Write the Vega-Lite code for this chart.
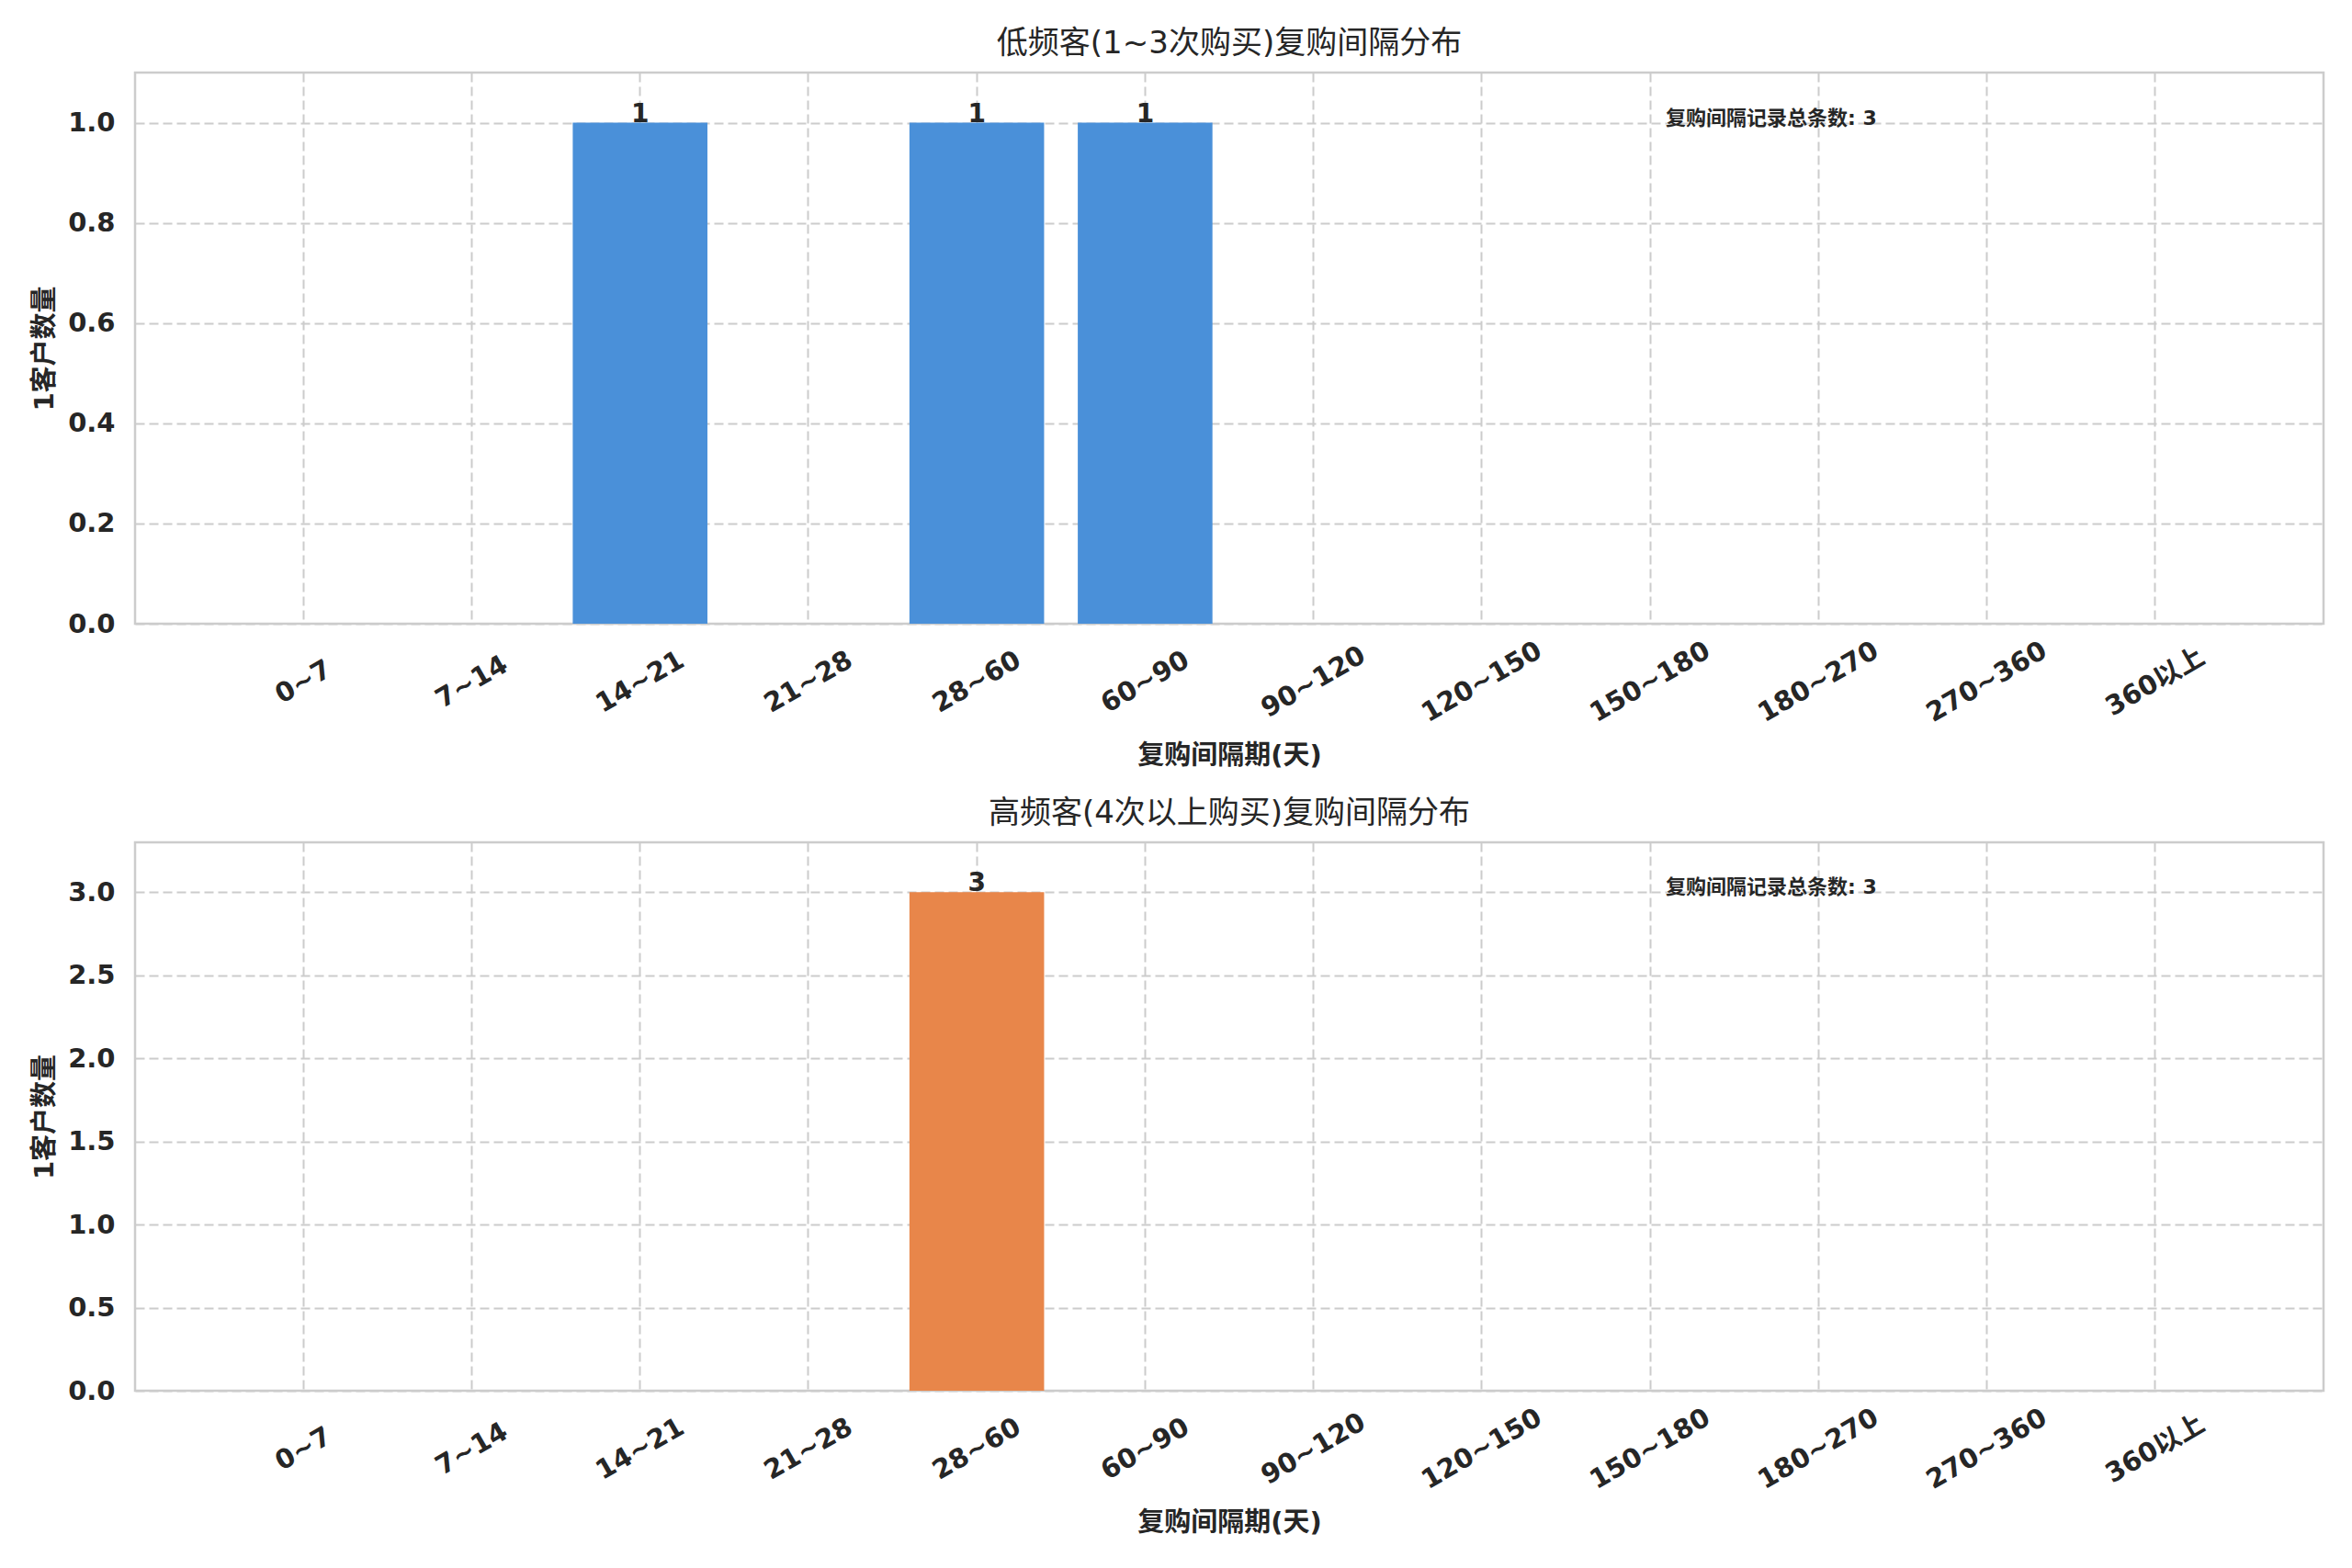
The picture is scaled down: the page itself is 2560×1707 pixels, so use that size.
{
  "$schema": "https://vega.github.io/schema/vega-lite/v6.json",
  "padding": {"left": 33, "top": 29, "right": 31, "bottom": 20},
  "background": "white",
  "spacing": 28,
  "datasets": {
    "low": [
      {"bin": "0~7", "count": 0},
      {"bin": "7~14", "count": 0},
      {"bin": "14~21", "count": 1},
      {"bin": "21~28", "count": 0},
      {"bin": "28~60", "count": 1},
      {"bin": "60~90", "count": 1},
      {"bin": "90~120", "count": 0},
      {"bin": "120~150", "count": 0},
      {"bin": "150~180", "count": 0},
      {"bin": "180~270", "count": 0},
      {"bin": "270~360", "count": 0},
      {"bin": "360以上", "count": 0}
    ],
    "high": [
      {"bin": "0~7", "count": 0},
      {"bin": "7~14", "count": 0},
      {"bin": "14~21", "count": 0},
      {"bin": "21~28", "count": 0},
      {"bin": "28~60", "count": 3},
      {"bin": "60~90", "count": 0},
      {"bin": "90~120", "count": 0},
      {"bin": "120~150", "count": 0},
      {"bin": "150~180", "count": 0},
      {"bin": "180~270", "count": 0},
      {"bin": "270~360", "count": 0},
      {"bin": "360以上", "count": 0}
    ]
  },
  "vconcat": [
    {
      "title": "低频客(1~3次购买)复购间隔分布",
      "width": 2382,
      "height": 600,
      "data": {"name": "low"},
      "encoding": {
        "x": {
          "field": "bin",
          "type": "nominal",
          "sort": null,
          "title": "复购间隔期(天)",
          "scale": {"paddingInner": 0.2, "paddingOuter": 0.6}
        }
      },
      "layer": [
        {
          "mark": {"type": "bar", "color": "#4A90D9"},
          "encoding": {
            "y": {
              "field": "count",
              "type": "quantitative",
              "title": "1客户数量",
              "scale": {"domain": [0, 1.1], "nice": false},
              "axis": {"values": [0, 0.2, 0.4, 0.6, 0.8, 1.0], "format": ".1f"}
            }
          }
        },
        {
          "transform": [{"filter": "datum.count > 0"}],
          "mark": {"type": "text", "baseline": "alphabetic", "dy": -1, "fontSize": 28, "fontWeight": "bold", "color": "#262626"},
          "encoding": {
            "y": {"field": "count", "type": "quantitative"},
            "text": {"field": "count", "type": "quantitative"}
          }
        },
        {
          "data": {"values": [{"bin": "150~180", "y": 1.0, "note": "复购间隔记录总条数: 3"}]},
          "mark": {"type": "text", "align": "left", "baseline": "middle", "dx": 17, "dy": -5, "fontSize": 22, "fontWeight": "bold", "color": "#262626"},
          "encoding": {
            "x": {"field": "bin", "type": "nominal"},
            "y": {"field": "y", "type": "quantitative"},
            "text": {"field": "note"}
          }
        }
      ]
    },
    {
      "title": "高频客(4次以上购买)复购间隔分布",
      "width": 2382,
      "height": 597,
      "data": {"name": "high"},
      "encoding": {
        "x": {
          "field": "bin",
          "type": "nominal",
          "sort": null,
          "title": "复购间隔期(天)",
          "scale": {"paddingInner": 0.2, "paddingOuter": 0.6}
        }
      },
      "layer": [
        {
          "mark": {"type": "bar", "color": "#E8864A"},
          "encoding": {
            "y": {
              "field": "count",
              "type": "quantitative",
              "title": "1客户数量",
              "scale": {"domain": [0, 3.3], "nice": false},
              "axis": {"values": [0, 0.5, 1.0, 1.5, 2.0, 2.5, 3.0], "format": ".1f"}
            }
          }
        },
        {
          "transform": [{"filter": "datum.count > 0"}],
          "mark": {"type": "text", "baseline": "alphabetic", "dy": -1, "fontSize": 28, "fontWeight": "bold", "color": "#262626"},
          "encoding": {
            "y": {"field": "count", "type": "quantitative"},
            "text": {"field": "count", "type": "quantitative"}
          }
        },
        {
          "data": {"values": [{"bin": "150~180", "y": 3.0, "note": "复购间隔记录总条数: 3"}]},
          "mark": {"type": "text", "align": "left", "baseline": "middle", "dx": 17, "dy": -5, "fontSize": 22, "fontWeight": "bold", "color": "#262626"},
          "encoding": {
            "x": {"field": "bin", "type": "nominal"},
            "y": {"field": "y", "type": "quantitative"},
            "text": {"field": "note"}
          }
        }
      ]
    }
  ],
  "config": {
    "font": "DejaVu Sans, Noto Sans CJK SC",
    "view": {"stroke": "#cccccc", "strokeWidth": 2.5},
    "title": {"fontSize": 34, "fontWeight": "normal", "color": "#262626", "offset": 14, "anchor": "middle"},
    "axis": {
      "domain": false,
      "ticks": false,
      "tickSize": 0,
      "grid": true,
      "gridColor": "#cccccc",
      "gridDash": [10, 5],
      "gridWidth": 2,
      "labelFontSize": 29,
      "labelFontWeight": "bold",
      "labelColor": "#262626",
      "titleFontSize": 29,
      "titleFontWeight": "bold",
      "titleColor": "#262626"
    },
    "axisX": {
      "bandPosition": 0.5,
      "labelAngle": -30,
      "labelAlign": "center",
      "labelBaseline": "middle",
      "labelPadding": 63,
      "titlePadding": 17
    },
    "axisY": {
      "labelPadding": 22,
      "titlePadding": 10
    }
  }
}
